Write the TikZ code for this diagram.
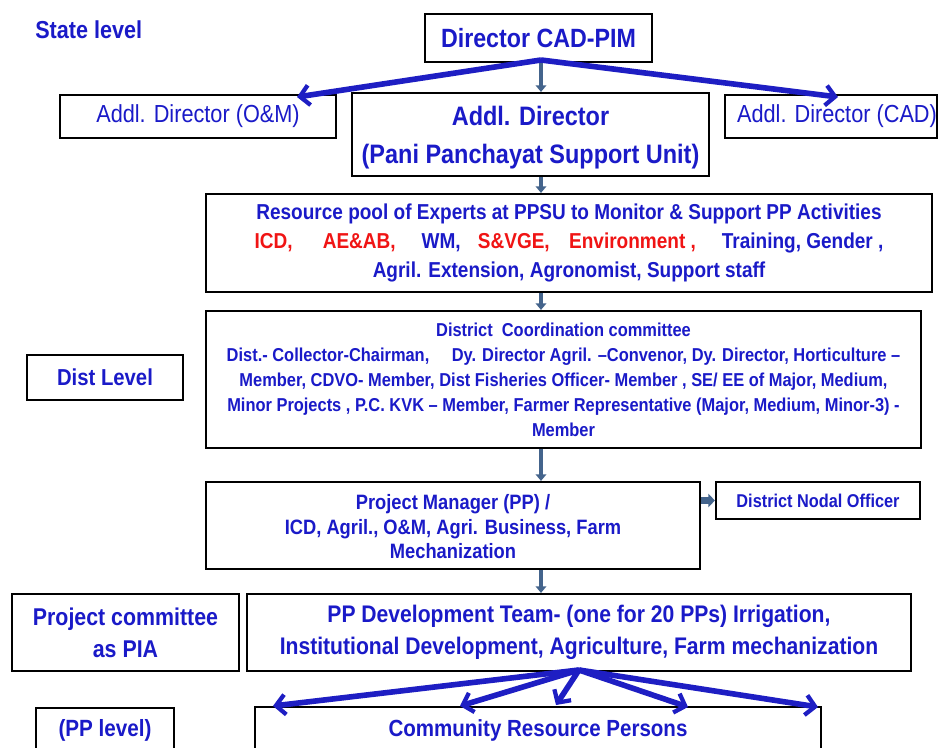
\documentclass[tikz,border=0pt]{standalone}
\usepackage{fontspec}
\setmainfont{Liberation Sans}[FakeStretch=0.88]
\usetikzlibrary{arrows.meta}
\definecolor{tblue}{RGB}{26,26,200}
\definecolor{ablue}{RGB}{30,30,195}
\definecolor{tred}{RGB}{240,20,20}
\definecolor{gblue}{RGB}{68,100,140}
\tikzset{
  box/.style 2 args={draw=black, line width=1.6pt, fill=white, inner sep=0pt,
     minimum width=#1*0.75pt, minimum height=#2*0.75pt, align=center, text=tblue},
  fs/.style 2 args={font=\fontsize{#1}{#2}\selectfont},
  fsb/.style 2 args={font=\bfseries\fontsize{#1}{#2}\selectfont},
  bigarrow/.style={draw=ablue, line width=4.2pt, -{Straight Barb[length=7pt,width=15pt,line width=3.2pt]}},
  smallarrow/.style={draw=gblue, line width=2.6pt, -{Triangle[length=5pt,width=8pt]}},
  blockarrow/.style={draw=gblue, line width=5pt, -{Triangle[length=5pt,width=10pt]}}
}
\begin{document}
\begin{tikzpicture}[x=0.75pt,y=-0.75pt]
\useasboundingbox (0,0) rectangle (940,747);
\fill[white] (0,0) rectangle (940,747);
\coordinate (axis) at (541,0);
\node[text=tblue, fsb={18.4}{22}, anchor=west, inner sep=0pt] (state) at (35,30) {State level};
\node[box={227}{48}, fsb={19.8}{24}] (dir) at (538.5,38) {Director CAD-PIM};
\node[box={276}{43}, fs={18.5}{22}] (om) at (198,116.5) {Addl. Director (O\&M)};
\node[box={357}{83}, fsb={20}{28}] (ppsu) at (530.5,134.5) {};
\node[text=tblue, fsb={20}{28}, align=center] (ppsutext) at (530.5,137.5) {Addl. Director\\(Pani Panchayat Support Unit)};
\node[box={212}{43}] (cad) at (831,116.5) {};
\node[text=tblue, fs={18.5}{22}] (cadtext) at (837,116.5) {Addl. Director (CAD)};
\node[box={726}{98}, fsb={16.2}{21.5}] (rp) at (569,243) {Resource pool of Experts at PPSU to Monitor \& Support PP Activities\\
\textcolor{tred}{ICD,}\hspace{1.4em}\textcolor{tred}{AE\&AB,}\hspace{1.2em}WM,\hspace{0.8em}\textcolor{tred}{S\&VGE,}\hspace{0.9em}\textcolor{tred}{Environment ,}\hspace{1.2em}Training, Gender ,\\
Agril. Extension, Agronomist, Support staff};
\node[box={715}{137}, fsb={14}{18.75}] (dc) at (563.5,379.5) {District\ \ Coordination committee\\
Dist.- Collector-Chairman,\hspace{1.2em}Dy. Director Agril. --Convenor, Dy. Director, Horticulture --\\
Member, CDVO- Member, Dist Fisheries Officer- Member , SE/ EE of Major, Medium,\\
Minor Projects , P.C. KVK -- Member, Farmer Representative (Major, Medium, Minor-3) -\\
Member};
\node[box={156}{45}, fsb={17.3}{21}] (dist) at (105,377.5) {Dist Level};
\node[box={494}{87}] (pm) at (453,525.5) {};
\node[text=tblue, fsb={15.6}{18.4}, align=center] (pmtext) at (453,527) {Project Manager (PP) /\\ICD, Agril., O\&M, Agri. Business, Farm\\Mechanization};
\node[box={204}{37}, fsb={13.9}{16}] (dno) at (818,500.5) {District Nodal Officer};
\node[box={227}{77}, fsb={18.2}{24}] (pc) at (125.5,632.5) {Project committee\\as PIA};
\node[box={664}{77}, fsb={18}{24}] (ppd) at (579,632.5) {PP Development Team- (one for 20 PPs) Irrigation,\\Institutional Development, Agriculture, Farm mechanization};
\node[box={138}{62}] (ppl) at (105,739) {};
\node[text=tblue, fsb={17.6}{20}] (ppltext) at (105,730) {(PP level)};
\node[box={566}{63}] (crp) at (538,738.5) {};
\node[text=tblue, fsb={17.5}{22}] (crptext) at (538,730) {Community Resource Persons};
% connectors
\coordinate (dsrc) at (541,60);
\coordinate (tl) at (297,97);
\coordinate (tr) at (838,97);
\draw[bigarrow] (dsrc) -- (tl);
\draw[bigarrow] (dsrc) -- (tr);
\draw[smallarrow] (dir.south -| axis) -- (ppsu.north -| axis);
\draw[smallarrow] (ppsu.south -| axis) -- (rp.north -| axis);
\draw[smallarrow] (rp.south -| axis) -- (dc.north -| axis);
\draw[smallarrow] (dc.south -| axis) -- (pm.north -| axis);
\draw[smallarrow] (pm.south -| axis) -- (ppd.north -| axis);
\draw[blockarrow] (pm.east |- dno.west) -- (dno.west);
\coordinate (psrc) at (579,670);
\coordinate (b1) at (273,706);
\coordinate (b2) at (460,706);
\coordinate (b3) at (556,705);
\coordinate (b4) at (688,707);
\coordinate (b5) at (818,707);
\foreach \t in {b1,b2,b3,b4,b5} \draw[bigarrow] (psrc) -- (\t);
\end{tikzpicture}
\end{document}
